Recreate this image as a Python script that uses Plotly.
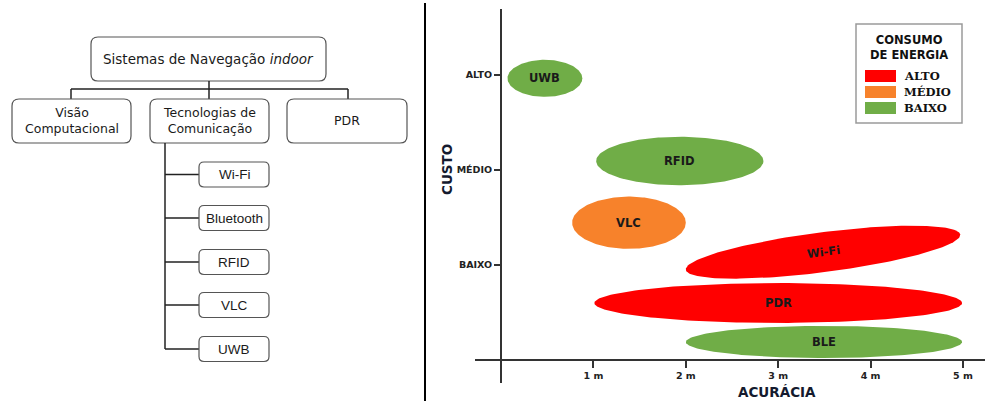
import math
import numpy as np
import plotly.graph_objects as go

W, H = 987, 401

# ---------------- Right chart data ----------------
techs = ["UWB", "RFID", "VLC", "Wi-Fi", "PDR", "BLE"]
energia = ["BAIXO", "BAIXO", "MÉDIO", "ALTO", "ALTO", "BAIXO"]
acc_min = [0.07, 1.03, 0.77, 2.00, 1.01, 2.00]        # accuracy (m), left end
acc_max = [0.88, 2.84, 2.00, 4.97, 4.99, 4.99]        # accuracy (m), right end
custo_left = [2.965, 2.095, 1.445, 0.95, 0.60, 0.19]  # cost level at left end
custo_right = [2.965, 2.095, 1.445, 1.32, 0.60, 0.19] # cost level at right end
custo_half = [0.195, 0.255, 0.275, 0.21, 0.21, 0.17]  # half thickness

x_tickvals = [1, 2, 3, 4, 5]
x_ticktext = ["1 m", "2 m", "3 m", "4 m", "5 m"]
y_tickvals = [1, 2, 3]
y_ticktext = ["BAIXO", "MÉDIO", "ALTO"]

legend_levels = ["ALTO", "MÉDIO", "BAIXO"]
level_colors = {"ALTO": "#FF0000", "MÉDIO": "#F7822B", "BAIXO": "#70AD47"}

# ---------------- Left diagram data ----------------
root_label = "Sistemas de Navegação <i>indoor</i>"
children = ["Visão<br>Computacional", "Tecnologias de<br>Comunicação", "PDR"]
leaves = ["Wi-Fi", "Bluetooth", "RFID", "VLC", "UWB"]

# ---------------- layout constants (pixels) ----------------
X0, SX = 501, 92.4   # pixel of x=0, pixels per metre
Y0, SY = 360, 95.0   # pixel of y=0, pixels per cost level


def px(x):
    return x / W


def py(y):
    return 1 - y / H


fig = go.Figure()

# ellipses
for i, t in enumerate(techs):
    cx = (acc_min[i] + acc_max[i]) / 2
    cy = (custo_left[i] + custo_right[i]) / 2
    ux = (acc_max[i] - acc_min[i]) / 2 * SX
    uy = (custo_right[i] - custo_left[i]) / 2 * SY
    a = math.hypot(ux, uy)
    th = math.atan2(uy, ux)
    b = custo_half[i] * SY
    tt = np.linspace(0, 2 * np.pi, 200)
    ex = a * np.cos(tt) * math.cos(th) - b * np.sin(tt) * math.sin(th)
    ey = a * np.cos(tt) * math.sin(th) + b * np.sin(tt) * math.cos(th)
    fig.add_trace(go.Scatter(
        x=cx + ex / SX, y=cy + ey / SY, mode="lines", fill="toself",
        fillcolor=level_colors[energia[i]], line=dict(width=0),
        hoverinfo="skip", showlegend=False, xaxis="x", yaxis="y"))
    fig.add_annotation(x=cx, y=cy, xref="x", yref="y", text="<b>%s</b>" % t,
                       showarrow=False, textangle=-math.degrees(th),
                       xanchor="center", yanchor="middle",
                       font=dict(family="DejaVu Sans", size=11.5, color="#1a1a1a"))

tickfont = dict(family="DejaVu Sans", size=9.5, color="#222")
fig.update_layout(
    width=W, height=H, margin=dict(l=0, r=0, t=0, b=0),
    paper_bgcolor="white", plot_bgcolor="rgba(0,0,0,0)",
    xaxis=dict(domain=[475 / W, 985 / W], range=[(475 - X0) / SX, (985 - X0) / SX],
               anchor="free", position=py(Y0), showline=True, linecolor="#333",
               linewidth=2, ticks="outside", ticklen=7, tickwidth=2, tickcolor="#333",
               tickvals=x_tickvals, ticktext=["<b>%s</b>" % s for s in x_ticktext],
               tickfont=tickfont, showgrid=False, zeroline=False, fixedrange=True),
    yaxis=dict(domain=[py(383), py(9)], range=[(Y0 - 383) / SY, (Y0 - 9) / SY],
               anchor="free", position=px(X0), showline=True, linecolor="#333",
               linewidth=2, ticks="outside", ticklen=6, tickwidth=2, tickcolor="#333",
               tickvals=y_tickvals, ticktext=["<b>%s</b>" % s for s in y_ticktext],
               tickfont=tickfont, showgrid=False, zeroline=False, fixedrange=True),
)


def label(x, y, text, size=12.5, family="DejaVu Sans", angle=0, color="#1a1a1a",
          xanchor="center"):
    fig.add_annotation(x=px(x), y=py(y), xref="paper", yref="paper", text=text,
                       showarrow=False, xanchor=xanchor, yanchor="middle", textangle=angle,
                       font=dict(family=family, size=size, color=color))


# axis titles
label(447, 170, "<b>CUSTO</b>", 13.5, angle=-90, color="#141a2e")
label(777, 392, "<b>ACURÁCIA</b>", 13.5, color="#141a2e")

shapes = []

# legend box
shapes.append(dict(type="rect", xref="paper", yref="paper", x0=px(856), x1=px(962),
                   y0=py(123), y1=py(24), line=dict(color="#9a9a9a", width=1.5),
                   fillcolor="white", layer="above"))
label(909, 47, "<b>CONSUMO<br>DE ENERGIA</b>", 11.5, color="#111")
for k, lv in enumerate(legend_levels):
    yc = 76 + 16 * k
    shapes.append(dict(type="rect", xref="paper", yref="paper", x0=px(865), x1=px(896),
                       y0=py(yc + 6), y1=py(yc - 6), line=dict(width=0),
                       fillcolor=level_colors[lv], layer="above"))
    label(902, yc, "<b>%s</b>" % lv, 11.5, "DejaVu Serif", color="#111", xanchor="left")

# divider
shapes.append(dict(type="line", xref="paper", yref="paper", x0=px(425), x1=px(425),
                   y0=py(3), y1=py(401), line=dict(color="#000", width=2)))


def rrect(x0, y0, x1, y1, r):
    pts = [("M", x0 + r, y0), ("L", x1 - r, y0), ("Q", x1, y0, x1, y0 + r),
           ("L", x1, y1 - r), ("Q", x1, y1, x1 - r, y1), ("L", x0 + r, y1),
           ("Q", x0, y1, x0, y1 - r), ("L", x0, y0 + r), ("Q", x0, y0, x0 + r, y0)]
    s = ""
    for p in pts:
        c = p[0]
        coords = p[1:]
        parts = []
        for j in range(0, len(coords), 2):
            parts.append("%.5f,%.5f" % (px(coords[j]), py(coords[j + 1])))
        s += c + " ".join(parts) + " "
    return s + "Z"


box_line = dict(color="#555", width=1.2)
conn = dict(color="#222", width=1.5)


def box(x0, y0, x1, y1, r=6):
    shapes.append(dict(type="path", xref="paper", yref="paper", path=rrect(x0, y0, x1, y1, r),
                       line=box_line, fillcolor="white"))


def seg(x0, y0, x1, y1):
    shapes.append(dict(type="line", xref="paper", yref="paper", x0=px(x0), y0=py(y0),
                       x1=px(x1), y1=py(y1), line=conn))


# root
box(91, 37, 326, 81, 7)
label(208, 59, root_label, 13.5)
# connectors level 1
seg(209, 81, 209, 99)
seg(71, 89, 348, 89)
seg(71, 89, 71, 99)
seg(348, 89, 348, 99)
child_x = [(12, 131), (150, 269), (287, 407)]
for (a0, a1), c in zip(child_x, children):
    box(a0, 99, a1, 143, 7)
    label((a0 + a1) / 2, 121, c, 12.5)

# leaves
leaf_centers = [174.5, 218, 262, 305, 349]
seg(165, 143, 165, 349)
for yc, lf in zip(leaf_centers, leaves):
    seg(165, yc, 199, yc)
    box(199, yc - 12.5, 269, yc + 12.5, 5)
    label(234, yc, lf, 13.5, "Liberation Sans")

fig.update_layout(shapes=shapes)
fig.write_html("out.html", config={"displayModeBar": False},
               post_script="document.body.style.margin='0';")
